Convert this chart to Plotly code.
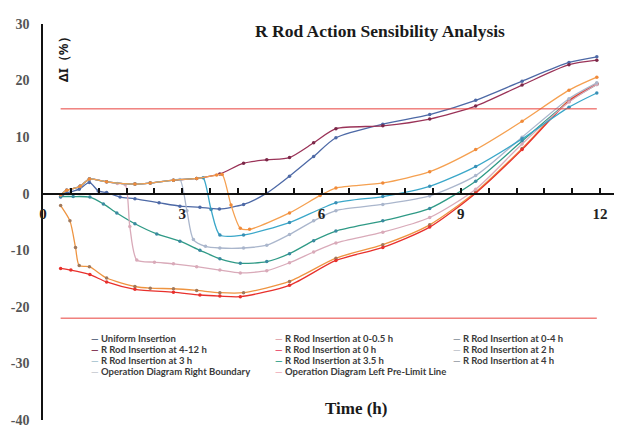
import plotly.graph_objects as go

# ---------------- data ----------------
uniform_x = [0.38, 0.51, 0.78, 1.0, 1.19, 1.37, 1.66, 1.98, 2.5, 2.95, 3.38, 3.8, 4.32, 4.82, 5.31, 5.83, 6.31, 7.32, 8.33, 9.32, 10.32, 11.33, 11.93]
uniform_y = [-0.6, 0.1, 0.8, 2.0, 0.5, 0.2, -0.6, -0.9, -1.6, -2.2, -2.4, -2.7, -1.9, 0.1, 3.1, 6.6, 9.9, 12.3, 14.0, 16.5, 19.9, 23.2, 24.2]

r05_x = [0.38, 0.58, 0.7, 0.78, 1.0, 1.37, 1.98, 2.31, 2.81, 3.31, 3.81, 4.32, 5.31, 6.31, 7.32, 8.33, 9.32, 10.32, 11.33, 11.93]
r05_y = [-2.1, -4.8, -9.5, -12.7, -12.9, -14.9, -16.4, -16.7, -16.8, -17.1, -17.5, -17.5, -15.5, -11.4, -9.0, -5.5, 0.3, 8.0, 16.5, 19.5]

r04_x = [0.38, 0.65, 1.01, 1.3, 1.59, 1.98, 2.45, 2.95, 3.38, 3.81, 4.25, 4.82, 5.31, 5.83, 6.31, 7.32, 8.33, 9.32, 10.32, 11.33, 11.93]
r04_y = [-0.5, -0.5, -0.6, -1.8, -3.4, -5.3, -7.1, -8.4, -10.0, -11.5, -12.3, -12.0, -10.6, -8.3, -6.6, -4.8, -2.6, 2.2, 9.3, 16.3, 19.3]

r412_x = [0.38, 0.51, 0.8, 1.0, 1.37, 1.98, 2.31, 2.81, 3.31, 3.81, 4.32, 4.82, 5.31, 5.83, 6.31, 7.32, 8.33, 9.32, 10.32, 11.33, 11.93]
r412_y = [-0.2, 0.6, 1.3, 2.6, 2.1, 1.7, 1.9, 2.4, 2.7, 3.5, 5.4, 6.0, 6.4, 9.0, 11.5, 12.0, 13.2, 15.5, 19.2, 22.8, 23.6]

r0_x = [0.38, 0.6, 1.01, 1.37, 1.98, 2.81, 3.38, 3.81, 4.25, 5.31, 6.31, 7.32, 8.33, 9.32, 10.32, 11.33, 11.93]
r0_y = [-13.2, -13.5, -14.3, -15.6, -16.9, -17.4, -17.9, -18.1, -18.2, -16.2, -11.8, -9.5, -5.9, 0.1, 7.8, 16.4, 19.4]

r2_x = [0.38, 0.51, 0.8, 1.0, 1.37, 1.6, 1.77, 1.87, 2.02, 2.4, 2.81, 3.31, 3.81, 4.25, 4.82, 5.31, 5.83, 6.31, 7.32, 8.33, 9.32, 10.32, 11.33, 11.93]
r2_y = [-0.2, 0.6, 1.3, 2.6, 2.1, 1.8, 1.6, -5.8, -11.7, -12.1, -12.4, -12.9, -13.5, -14.0, -13.6, -12.2, -10.3, -8.7, -6.8, -4.2, 0.8, 8.8, 16.2, 19.3]

r3_x = [0.38, 0.51, 0.8, 1.0, 1.37, 1.98, 2.31, 2.81, 2.95, 3.1, 3.24, 3.5, 3.81, 4.32, 4.82, 5.31, 5.83, 6.31, 7.32, 8.33, 9.32, 10.32, 11.33, 11.93]
r3_y = [-0.2, 0.6, 1.3, 2.6, 2.1, 1.7, 1.9, 2.4, 2.5, -3.0, -8.1, -9.3, -9.6, -9.6, -9.1, -7.2, -4.8, -3.0, -1.9, -0.4, 3.2, 10.0, 16.8, 19.6]

r35_x = [0.38, 0.51, 0.8, 1.0, 1.37, 1.98, 2.31, 2.81, 3.31, 3.45, 3.62, 3.81, 4.32, 5.31, 6.31, 7.32, 8.33, 9.32, 10.32, 11.33, 11.93]
r35_y = [-0.2, 0.6, 1.3, 2.6, 2.1, 1.7, 1.9, 2.4, 2.7, 2.8, -2.8, -7.3, -7.3, -5.1, -1.6, -0.5, 1.3, 4.8, 9.7, 15.3, 17.8]

r4_x = [0.38, 0.51, 0.8, 1.0, 1.37, 1.98, 2.31, 2.81, 3.31, 3.74, 3.86, 4.05, 4.25, 4.45, 5.31, 5.97, 6.31, 7.32, 8.33, 9.32, 10.32, 11.33, 11.93]
r4_y = [-0.2, 0.6, 1.3, 2.6, 2.1, 1.7, 1.9, 2.4, 2.7, 3.3, 3.4, -2.0, -6.1, -6.3, -3.4, -0.3, 1.0, 1.9, 3.9, 7.8, 12.8, 18.3, 20.6]

limit_x = [0.38, 11.93]
right_boundary_y = [15, 15]
left_prelimit_y = [-22, -22]

x_tick_vals = [0, 0.6, 1.2, 1.8, 2.4, 3, 3.6, 4.2, 4.8, 5.4, 6, 6.6, 7.2, 7.8, 8.4, 9, 9.6, 10.2, 10.8, 11.4, 12]
x_tick_text = ["0", "", "", "", "", "3", "", "", "", "", "6", "", "", "", "", "9", "", "", "", "", "12"]
y_tick_vals = [30, 20, 10, 0, -10, -20, -30, -40]
y_tick_text = ["30", "20", "10", "0", "-10", "-20", "-30", "-40"]

series = [
    ("Uniform Insertion", uniform_x, uniform_y, "#4d69a6", "#4d69a6"),
    ("R Rod Insertion at 0-0.5 h", r05_x, r05_y, "#ee9440", "#a0785a"),
    ("R Rod Insertion at 0-4 h", r04_x, r04_y, "#2f9a86", "#3a8aa0"),
    ("R Rod Insertion at 4-12 h", r412_x, r412_y, "#9a3358", "#7a2848"),
    ("R Rod Insertion at 0 h", r0_x, r0_y, "#e8302c", "#e8302c"),
    ("R Rod Insertion at 2 h", r2_x, r2_y, "#d9aab9", "#d9aab9"),
    ("R Rod Insertion at 3 h", r3_x, r3_y, "#aab6cc", "#aab6cc"),
    ("R Rod Insertion at 3.5 h", r35_x, r35_y, "#3aa7c9", "#3a8fb5"),
    ("R Rod Insertion at 4 h", r4_x, r4_y, "#f5a050", "#f08a3a"),
]
ref_lines = [
    ("Operation Diagram Right Boundary", limit_x, right_boundary_y, "#e8403c"),
    ("Operation Diagram Left Pre-Limit Line", limit_x, left_prelimit_y, "#e8403c"),
]
legend_colors = ["#55617a", "#e0a0a8", "#8a949e", "#7a2848", "#e8486a", "#c0c4cc",
                 "#a8c4d0", "#2fa08a", "#9aa0a8", "#c8ccd2", "#f0b0bc"]

fig = go.Figure()
for name, xs, ys, col, mcol in series:
    fig.add_trace(go.Scatter(
        x=xs, y=ys, name=name, mode="lines+markers",
        line=dict(color=col, width=1.3, shape="spline", smoothing=0.7),
        marker=dict(size=3.5, color=mcol), showlegend=False))
for name, xs, ys, col in ref_lines:
    fig.add_trace(go.Scatter(x=xs, y=ys, name=name, mode="lines",
                             line=dict(color=col, width=1), showlegend=False))

# compact three-column legend drawn as text
names = [s[0] for s in series] + [r[0] for r in ref_lines]
col_x = [90, 274, 452]
row_y = [338, 349, 360, 371]
PL, PT, PW, PH = 43, 24, 571, 396
for i, nm in enumerate(names):
    c, r = i % 3, i // 3
    fig.add_annotation(
        x=(col_x[c] - PL) / PW, y=(PT + PH - row_y[r]) / PH, xref="paper", yref="paper",
        xanchor="left", yanchor="middle", showarrow=False, borderpad=0,
        text=f'<span style="color:{legend_colors[i]}">—</span> {nm}',
        font=dict(family="Lato", size=9.5, color="#3a3a3a", weight="bold"))

fig.add_annotation(x=(380 - PL) / PW, y=(PT + PH - 31) / PH, xref="paper", yref="paper",
                   xanchor="center", yanchor="middle",
                   text="R Rod Action Sensibility Analysis", showarrow=False,
                   font=dict(family="Liberation Serif", size=17.5, color="#1a1a1a", weight="bold"))
fig.add_annotation(x=(356 - PL) / PW, y=(PT + PH - 408) / PH, xref="paper", yref="paper",
                   xanchor="center", yanchor="middle",
                   text="Time (h)", showarrow=False,
                   font=dict(family="Liberation Serif", size=17, color="#1a1a1a", weight="bold"))
fig.add_annotation(x=(63 - PL) / PW, y=(PT + PH - 56) / PH, xref="paper", yref="paper",
                   xanchor="center", yanchor="middle",
                   text="ΔI（%）", showarrow=False, textangle=-90,
                   font=dict(family="Noto Sans", size=13, color="#1a1a1a", weight="bold"))
# arrow head at the top of the y axis
fig.add_annotation(x=0, y=30.3, xref="x", yref="y", ax=0, ay=8, text="",
                   showarrow=True, arrowhead=2, arrowsize=1, arrowwidth=1.5, arrowcolor="#111")

fig.update_layout(
    width=642, height=429,
    margin=dict(l=PL, r=642 - PL - PW, t=PT, b=429 - PT - PH, autoexpand=False),
    paper_bgcolor="white", plot_bgcolor="white",
    showlegend=False,
    xaxis=dict(range=[0, 12.3], anchor="free", position=40 / 70, automargin=False,
               showline=True, linecolor="#111", linewidth=2,
               showgrid=False, zeroline=False,
               tickmode="array", tickvals=x_tick_vals, ticktext=x_tick_text,
               ticks="inside", ticklen=5, tickwidth=1.5, tickcolor="#111",
               ticklabelstandoff=6,
               tickfont=dict(family="Liberation Serif", size=15, color="#222", weight="bold")),
    yaxis=dict(range=[-40, 30], showline=True, linecolor="#111", linewidth=1.5,
               showgrid=False, zeroline=False, automargin=False,
               tickmode="array", tickvals=y_tick_vals, ticktext=y_tick_text,
               ticks="", ticklabelstandoff=9,
               tickfont=dict(family="Liberation Serif", size=14, color="#555", weight="bold")),
)

fig.write_html("out.html", config={"displayModeBar": False},
               post_script="document.body.style.margin='0px';")
